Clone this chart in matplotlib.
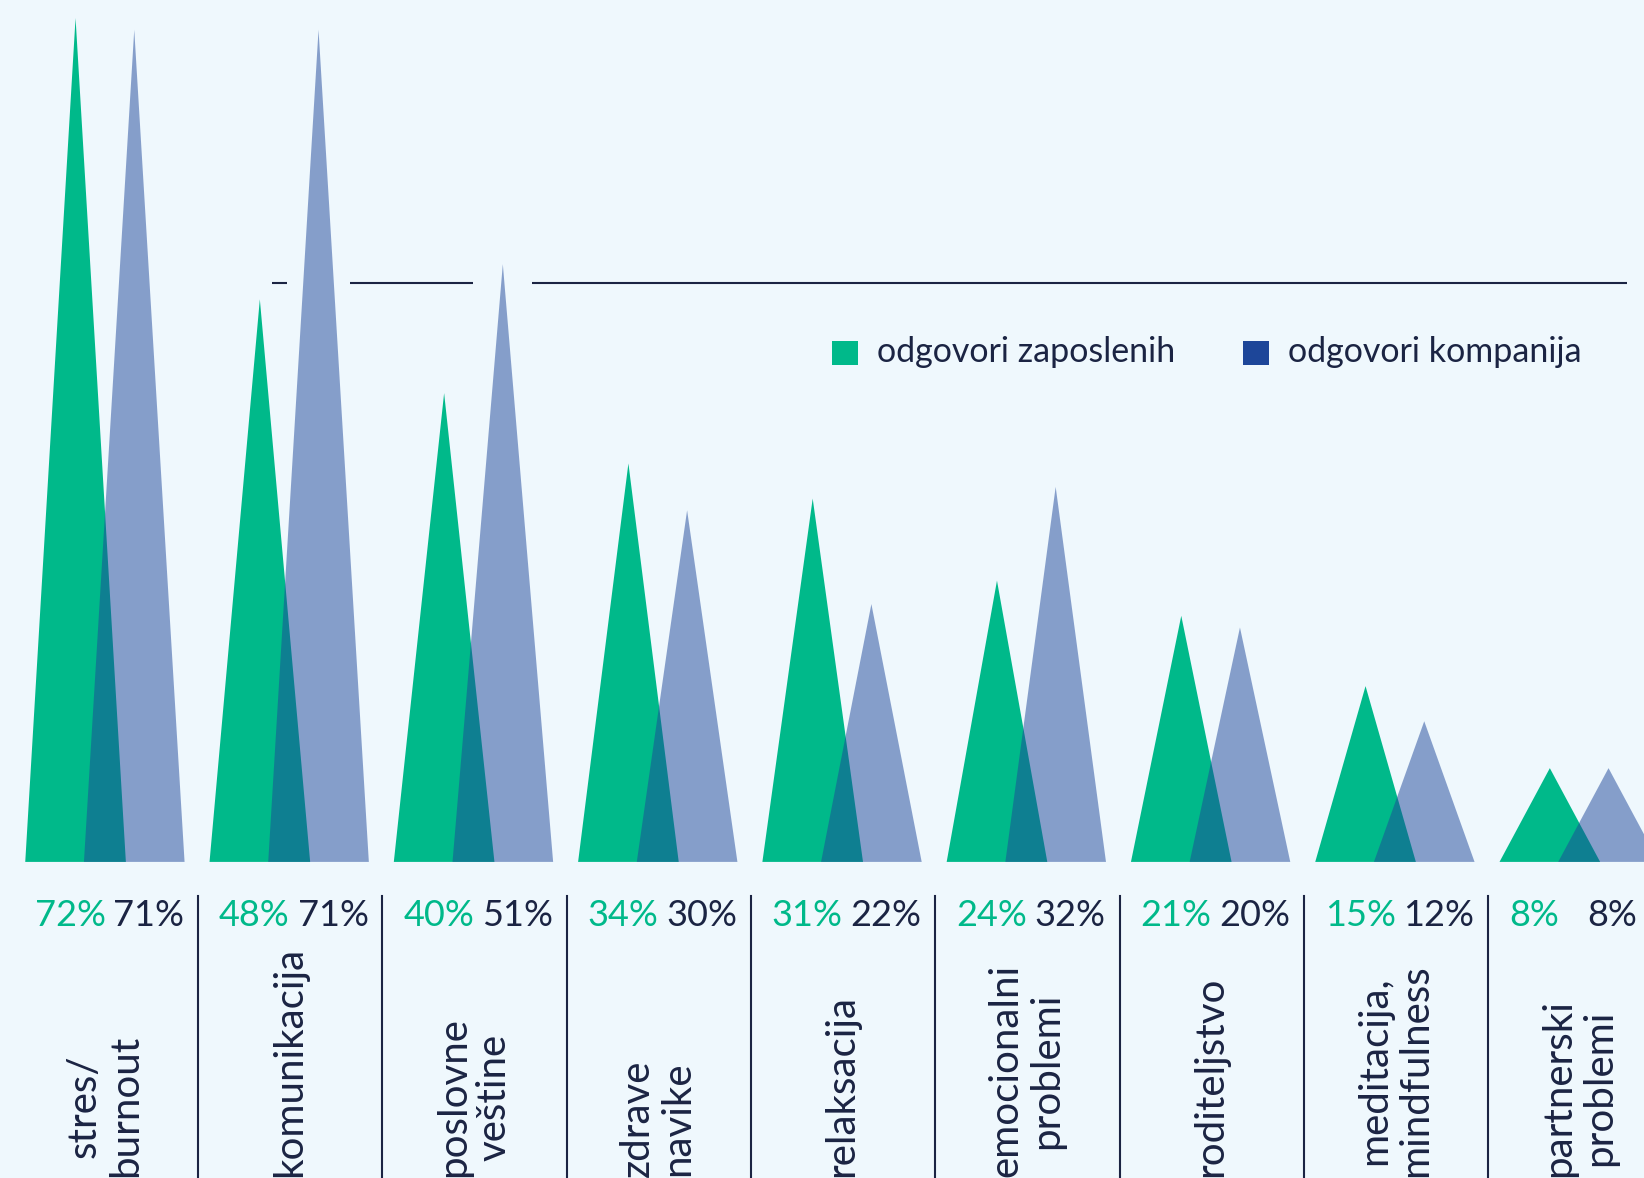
import matplotlib.pyplot as plt
from matplotlib.patches import Rectangle

# данные
categories = ['stres/\nburnout', 'komunikacija', 'poslovne\nveštine', 'zdrave\nnavike',
              'relaksacija', 'emocionalni\nproblemi', 'roditeljstvo',
              'meditacija,\nmindfulness', 'partnerski\nproblemi']
zaposleni = [72, 48, 40, 34, 31, 24, 21, 15, 8]
kompanije = [71, 71, 51, 30, 22, 32, 20, 12, 8]
legend_labels = ['odgovori zaposlenih', 'odgovori kompanija']

bg = '#eff8fd'
green = '#00b98a'
blue = '#1d4699'
dark = '#1b2443'

plt.rcParams['font.family'] = ['Lato', 'DejaVu Sans']

fig = plt.figure(figsize=(16.44, 11.78), dpi=100)
fig.patch.set_facecolor(bg)
ax = fig.add_axes([0, 0, 1, 1])
ax.set_facecolor(bg)
ax.set_xlim(-0.41, 8.511)
ax.set_ylim(-26.97, 73.54)
ax.axis('off')

hw = 0.273      # половина ширины треугольника
shift = 0.3185  # сдвиг второго треугольника

# горизонтальная линия с разрывами вокруг треугольников
level = 49.4
x_start, x_end = 1.064, 8.419
pad = 0.09
gaps = []
for i in range(len(categories)):
    for cx, v in [(i, zaposleni[i]), (i + shift, kompanije[i])]:
        if v > level:
            w = max(hw * (1 - level / v) + pad, 0.16)
            gaps.append((cx - w, cx + w))
gaps.sort()
x0 = x_start
for g0, g1 in gaps:
    if g1 < x_start:
        continue
    if g0 > x0:
        ax.plot([x0, g0], [level, level], color=dark, lw=1.5, solid_capstyle='butt')
    x0 = max(x0, g1)
if x0 < x_end:
    ax.plot([x0, x_end], [level, level], color=dark, lw=1.5, solid_capstyle='butt')

for i, cat in enumerate(categories):
    g, k = zaposleni[i], kompanije[i]
    ax.fill([i - hw, i, i + hw], [0, g, 0], color=green, lw=0)
    xb = i + shift
    ax.fill([xb - hw, xb, xb + hw], [0, k, 0], color=blue, alpha=0.5, lw=0)

    ax.text(i - 0.222, -5.5, f'{g}%', color=green, fontsize=26,
            ha='left', va='baseline')
    ax.text(i + 0.205, -5.5, f'{k}%', color=dark, fontsize=26,
            ha='left', va='baseline')

    ax.text(i + 0.159, -26.9, cat, rotation=90, color=dark, fontsize=29,
            ha='center', va='bottom', linespacing=1.12)

    if i > 0:
        sep = i - 0.335
        ax.plot([sep, sep], [-2.95, -27], color=dark, lw=1.5)

# легенда
for lx, tx, col, lab in [(0.506, 0.5335, green, legend_labels[0]),
                         (0.756, 0.7835, blue, legend_labels[1])]:
    fig.patches.append(Rectangle((lx, 0.690), 0.0158, 0.0204, transform=fig.transFigure,
                                 color=col, lw=0))
    fig.text(tx, 0.701, lab, color=dark, fontsize=24.5, ha='left', va='center')

plt.savefig('out.png', facecolor=bg)
